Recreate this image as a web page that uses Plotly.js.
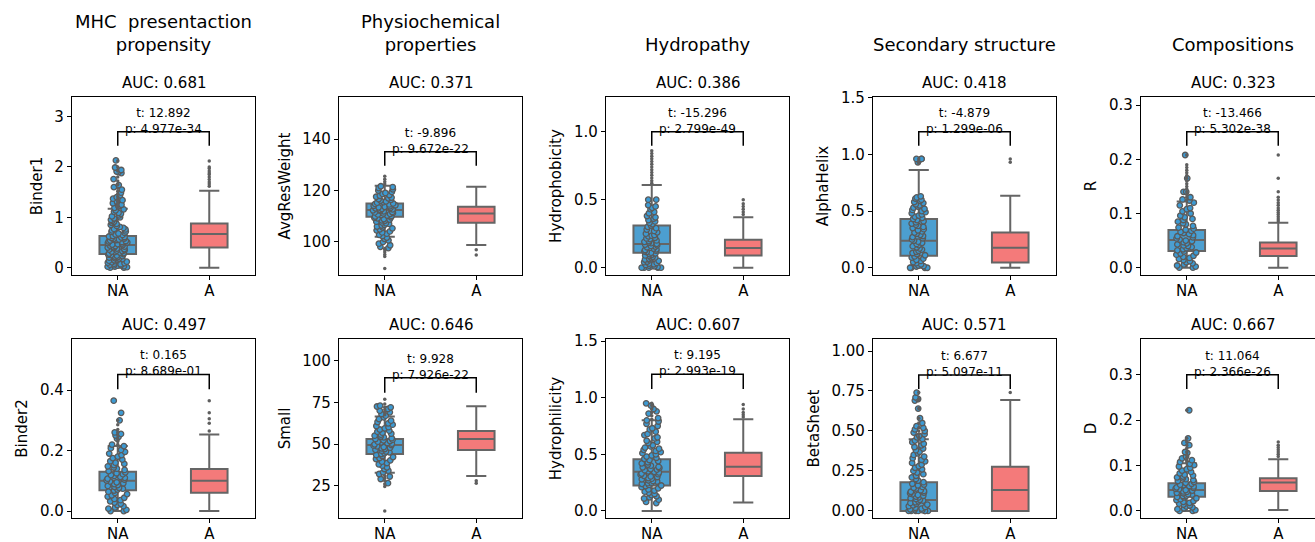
<!DOCTYPE html>
<html>
<head>
<meta charset="utf-8">
<script src="https://cdn.plot.ly/plotly-3.0.1.min.js"></script>
<style>
html,body{margin:0;padding:0;overflow:hidden;background:#fff;}
#chart{width:1330px;height:542px;}
</style>
</head>
<body>
<div id="chart"></div>
<script>
// ---------------- DATA ----------------
const categories = ['NA', 'A'];
const groupTitles = ['MHC\u00a0 presentaction<br>propensity', 'Physiochemical<br>properties', 'Hydropathy', 'Secondary structure', 'Compositions'];
const features = ['Binder1', 'AvgResWeight', 'Hydrophobicity', 'AlphaHelix', 'R',
                  'Binder2', 'Small', 'Hydrophilicity', 'BetaSheet', 'D'];
const aucValues = ['0.681', '0.371', '0.386', '0.418', '0.323',
                   '0.497', '0.646', '0.607', '0.571', '0.667'];
const tValues = ['12.892', '-9.896', '-15.296', '-4.879', '-13.466',
                 '0.165', '9.928', '9.195', '6.677', '11.064'];
const pValues = ['4.977e-34', '9.672e-22', '2.799e-49', '1.299e-06', '5.302e-38',
                 '8.689e-01', '7.926e-22', '2.993e-19', '5.097e-11', '2.366e-26'];

// box statistics, NA group
const naQ1  = [0.27, 109.7, 0.11, 0.106, 0.031, 0.069, 44.0, 0.224, 0.0, 0.0316];
const naMed = [0.45, 112.3, 0.174, 0.238, 0.051, 0.100, 49.4, 0.347, 0.069, 0.046];
const naQ3  = [0.63, 114.9, 0.31, 0.43, 0.0695, 0.130, 53.0, 0.456, 0.179, 0.061];
const naLo  = [0.0, 101.9, 0.0, 0.0, 0.0, 0.0, 32.8, 0.0, 0.0, 0.0];
const naHi  = [1.17, 121.8, 0.608, 0.862, 0.122, 0.215, 66.5, 0.80, 0.448, 0.105];
// box statistics, A group
const aQ1  = [0.40, 107.4, 0.09, 0.047, 0.0215, 0.0606, 46.4, 0.309, 0.0, 0.044];
const aMed = [0.67, 111.0, 0.145, 0.176, 0.0356, 0.100, 53.0, 0.39, 0.131, 0.0625];
const aQ3  = [0.88, 113.6, 0.205, 0.31, 0.0467, 0.139, 57.8, 0.515, 0.277, 0.072];
const aLo  = [0.0, 98.7, 0.0, 0.0, 0.0, 0.0, 30.8, 0.074, 0.0, 0.002];
const aHi  = [1.53, 121.4, 0.37, 0.635, 0.083, 0.253, 72.6, 0.81, 0.694, 0.114];

// outliers (fliers)
const naFliers = [
  [1.2, 1.24, 1.28, 1.32, 1.36, 1.41, 1.47, 1.52, 1.58, 1.65, 1.72, 1.8, 1.92, 2.0, 2.12],
  [89.5, 94.2, 95.0, 96.0, 96.8, 97.3, 122.5, 123.4, 124.3, 125.5],
  [0.62, 0.64, 0.66, 0.68, 0.7, 0.72, 0.74, 0.76, 0.78, 0.8, 0.82, 0.84, 0.86],
  [0.92, 0.94, 0.96],
  [0.124, 0.13, 0.135, 0.14, 0.145, 0.15, 0.155, 0.16, 0.165, 0.17, 0.175, 0.18, 0.185, 0.19, 0.208],
  [0.22, 0.23, 0.24, 0.25, 0.26, 0.27, 0.285, 0.3],
  [9.8, 24.5, 26.0, 28.0, 29.5, 31.0, 67.5, 69.0, 70.5, 72.0, 74.0, 76.8],
  [0.81, 0.84, 0.87, 0.9, 0.93, 0.95],
  [0.46, 0.48, 0.5, 0.52, 0.55, 0.58, 0.64, 0.69, 0.7, 0.74],
  [0.108, 0.112, 0.118, 0.124, 0.13, 0.138, 0.145, 0.152, 0.16, 0.222]
];
const aFliers = [
  [1.62, 1.66, 1.7, 1.75, 1.8, 1.85, 1.88, 1.92, 1.97, 2.0, 2.12],
  [96.8, 94.8],
  [0.39, 0.41, 0.43, 0.45, 0.47, 0.5],
  [0.93, 0.96],
  [0.086, 0.09, 0.094, 0.098, 0.102, 0.106, 0.11, 0.115, 0.12, 0.125, 0.13, 0.14, 0.165, 0.208],
  [0.265, 0.29, 0.305, 0.325, 0.365],
  [28.0, 26.5],
  [0.83, 0.85, 0.87, 0.9, 0.94],
  [0.74],
  [0.12, 0.125, 0.13, 0.135, 0.14, 0.145, 0.152]
];

// individual NA observations (strip points, estimated from the dense clouds)
const naStrip = [
  [0.00,0.00,0.01,0.02,0.02,0.03,0.04,0.05,0.05,0.06,0.07,0.08,0.09,0.10,0.11,0.12,0.13,0.14,0.15,0.16,0.17,0.18,0.19,0.20,0.21,0.22,0.23,0.24,0.25,0.26,0.27,0.28,0.29,0.30,0.31,0.32,0.33,0.34,0.35,0.36,0.37,0.38,0.39,0.40,0.41,0.42,0.43,0.44,0.45,0.46,0.47,0.48,0.49,0.50,0.51,0.52,0.53,0.54,0.55,0.56,0.57,0.58,0.59,0.60,0.61,0.62,0.63,0.65,0.66,0.68,0.69,0.71,0.72,0.74,0.76,0.77,0.79,0.81,0.83,0.85,0.87,0.89,0.91,0.93,0.95,0.98,1.0,1.02,1.04,1.07,1.09,1.11,1.14,1.16,1.19,1.22,1.25,1.28,1.31,1.34,1.37,1.4,1.44,1.49,1.55,1.6,1.64,1.76,1.88,1.9,1.91,1.94,1.99,2.13],
  [97.5,98.0,98.6,99.2,99.9,100.5,101.1,101.6,102.2,102.7,103.1,103.6,104.0,104.4,104.8,105.2,105.6,105.9,106.3,106.6,106.9,107.2,107.5,107.8,108.1,108.3,108.6,108.8,109.1,109.3,109.5,109.8,110.0,110.2,110.4,110.6,110.8,111.0,111.2,111.4,111.6,111.8,112.0,112.2,112.4,112.6,112.8,113.0,113.2,113.4,113.6,113.8,114.0,114.2,114.5,114.7,114.9,115.2,115.4,115.7,116.0,116.3,116.6,116.9,117.2,117.5,117.9,118.2,118.6,119.0,119.4,119.9,120.4,120.9,121.3,121.6],
  [0,0,0,0,0,0.005,0.01,0.01,0.015,0.02,0.025,0.03,0.035,0.04,0.045,0.05,0.055,0.06,0.065,0.07,0.075,0.08,0.085,0.09,0.095,0.1,0.105,0.11,0.115,0.12,0.125,0.13,0.135,0.14,0.145,0.15,0.155,0.16,0.165,0.17,0.175,0.18,0.185,0.19,0.195,0.2,0.21,0.215,0.22,0.23,0.235,0.24,0.25,0.26,0.27,0.28,0.29,0.3,0.31,0.32,0.33,0.34,0.35,0.36,0.37,0.38,0.4,0.41,0.43,0.44,0.45,0.46,0.5,0.5],
  [0,0,0,0,0.01,0.015,0.02,0.03,0.04,0.05,0.06,0.07,0.08,0.09,0.1,0.11,0.12,0.13,0.14,0.15,0.16,0.17,0.18,0.19,0.2,0.21,0.22,0.23,0.24,0.25,0.26,0.27,0.28,0.29,0.3,0.31,0.32,0.33,0.34,0.35,0.36,0.37,0.38,0.39,0.4,0.41,0.42,0.43,0.44,0.45,0.46,0.47,0.48,0.49,0.5,0.51,0.52,0.53,0.54,0.55,0.56,0.57,0.58,0.59,0.6,0.61,0.62,0.63,0.93,0.95,0.96,0.96,0.96],
  [0,0,0.002,0.004,0.006,0.008,0.01,0.012,0.014,0.016,0.018,0.02,0.022,0.024,0.026,0.028,0.03,0.032,0.034,0.036,0.038,0.04,0.041,0.043,0.045,0.047,0.049,0.05,0.052,0.054,0.056,0.058,0.06,0.062,0.064,0.066,0.068,0.07,0.072,0.074,0.077,0.08,0.082,0.085,0.088,0.09,0.093,0.096,0.1,0.104,0.108,0.11,0.115,0.12,0.124,0.126,0.13,0.14,0.14,0.165,0.208],
  [0,0,0.004,0.008,0.012,0.016,0.02,0.024,0.028,0.032,0.036,0.04,0.044,0.048,0.052,0.056,0.06,0.064,0.068,0.071,0.074,0.077,0.08,0.083,0.086,0.089,0.092,0.095,0.098,0.101,0.104,0.107,0.11,0.113,0.116,0.119,0.122,0.125,0.128,0.132,0.136,0.14,0.144,0.148,0.152,0.156,0.16,0.165,0.17,0.175,0.18,0.185,0.19,0.196,0.202,0.208,0.215,0.22,0.24,0.245,0.25,0.255,0.26,0.3,0.325,0.365],
  [26.5,29,30.5,32,33,34,35,36,37,37.8,38.6,39.4,40.2,41,41.6,42.2,42.8,43.4,44,44.5,45,45.5,46,46.5,47,47.4,47.8,48.2,48.6,49,49.4,49.8,50.2,50.6,51,51.4,51.8,52.2,52.6,53,53.5,54,54.5,55,55.6,56.2,56.8,57.4,58,58.7,59.4,60.1,60.8,61.6,62.4,63.2,64,65,66,67,68,69,70,71,72,72.5,73],
  [0.07,0.08,0.1,0.11,0.12,0.13,0.14,0.15,0.16,0.17,0.18,0.19,0.2,0.21,0.22,0.225,0.23,0.24,0.245,0.25,0.26,0.265,0.27,0.28,0.285,0.29,0.3,0.305,0.31,0.32,0.325,0.33,0.34,0.345,0.35,0.36,0.365,0.37,0.38,0.385,0.39,0.4,0.41,0.42,0.43,0.44,0.45,0.46,0.47,0.48,0.49,0.5,0.51,0.52,0.53,0.54,0.55,0.56,0.57,0.58,0.6,0.61,0.62,0.64,0.65,0.67,0.68,0.7,0.72,0.73,0.75,0.77,0.79,0.8,0.82,0.86,0.88,0.9,0.93,0.95],
  [0,0,0,0,0,0,0,0.005,0.01,0.01,0.015,0.02,0.025,0.03,0.035,0.04,0.045,0.05,0.055,0.06,0.065,0.07,0.075,0.08,0.085,0.09,0.095,0.1,0.105,0.11,0.115,0.12,0.125,0.13,0.14,0.145,0.15,0.16,0.165,0.17,0.18,0.19,0.2,0.21,0.22,0.23,0.24,0.25,0.26,0.27,0.28,0.29,0.3,0.31,0.32,0.33,0.34,0.35,0.36,0.37,0.38,0.39,0.4,0.41,0.42,0.43,0.44,0.45,0.46,0.47,0.48,0.49,0.5,0.51,0.52,0.53,0.55,0.58,0.64,0.69,0.7,0.71,0.74],
  [0,0,0.002,0.004,0.006,0.008,0.01,0.012,0.014,0.016,0.018,0.02,0.022,0.024,0.026,0.028,0.03,0.031,0.033,0.034,0.036,0.037,0.039,0.04,0.042,0.043,0.045,0.046,0.048,0.049,0.051,0.052,0.054,0.055,0.057,0.058,0.06,0.062,0.064,0.066,0.068,0.07,0.072,0.074,0.076,0.078,0.08,0.083,0.086,0.089,0.092,0.095,0.098,0.101,0.104,0.108,0.112,0.116,0.12,0.128,0.13,0.145,0.15,0.16,0.222]
];

// tick values per subplot
const yTicks = [
  [0, 1, 2, 3], [100, 120, 140], [0, 0.5, 1.0], [0, 0.5, 1.0, 1.5], [0, 0.1, 0.2, 0.3],
  [0, 0.2, 0.4], [25, 50, 75, 100], [0, 0.5, 1.0, 1.5], [0, 0.25, 0.5, 0.75, 1.0], [0, 0.1, 0.2, 0.3]
];

// ---------------- LAYOUT / STYLE ----------------
const W = 1330, H = 542;
const colLeft = [72, 339, 606, 873, 1141];
const axW = 183;
const rowTop = [97, 339];
const rowH = [178, 179];
const yRanges = [
  [-0.145, 3.39], [87, 156.4], [-0.054, 1.255], [-0.064, 1.506], [-0.0135, 0.315],
  [-0.023, 0.569], [5.6, 113], [-0.062, 1.518], [-0.044, 1.075], [-0.0155, 0.379]
];
const tickFormats = ['', '', '.1f', '.1f', '.1f', '.1f', '', '.1f', '.2f', '.1f'];
// bracket levels [top, lower end] in data units
const bracketTop = [2.70, 135.1, 1.0, 1.20, 0.251, 0.452, 89.8, 1.207, 0.85, 0.300];
const bracketBot = [2.42, 129.6, 0.897, 1.077, 0.225, 0.403, 80.8, 1.077, 0.7625, 0.269];

const NA_FILL = '#4C9FD0';
const A_FILL = '#F47A7A';
const EDGE = '#656565';
const FONT = 'DejaVu Sans, sans-serif';

const traces = [];
const layout = {
  width: W, height: H,
  margin: {l: 0, r: 0, t: 0, b: 0},
  paper_bgcolor: '#fff', plot_bgcolor: '#fff',
  showlegend: false,
  font: {family: FONT, size: 15, color: '#000'},
  shapes: [], annotations: []
};

for (let k = 0; k < 10; k++) {
  const r = Math.floor(k / 5), c = k % 5;
  const id = k === 0 ? '' : String(k + 1);
  const xa = 'x' + id, ya = 'y' + id;
  const l = colLeft[c], top = rowTop[r], h = rowH[r];

  layout['xaxis' + id] = {
    domain: [l / W, (l + axW) / W],
    range: [-0.5, 1.5],
    tickvals: [0, 1], ticktext: categories,
    ticks: 'outside', ticklen: 4, tickwidth: 1, tickcolor: '#000',
    ticklabelstandoff: -2,
    showline: true, mirror: true, linecolor: '#000', linewidth: 1.2,
    showgrid: false, zeroline: false, fixedrange: true,
    tickfont: {size: 15, family: FONT}, anchor: ya
  };
  layout['yaxis' + id] = {
    domain: [(H - top - h) / H, (H - top) / H],
    range: yRanges[k],
    tickvals: yTicks[k], tickformat: tickFormats[k],
    ticks: 'outside', ticklen: 4, tickwidth: 1, tickcolor: '#000',
    showline: true, mirror: true, linecolor: '#000', linewidth: 1.2,
    showgrid: false, zeroline: false, fixedrange: true,
    tickfont: {size: 15, family: FONT}, anchor: xa,
    title: {text: features[k], font: {size: 15, family: FONT}, standoff: 8}
  };

  const common = {xaxis: xa, yaxis: ya, hoverinfo: 'skip', showlegend: false, orientation: 'v'};
  // NA box
  traces.push(Object.assign({
    type: 'box', x: [0], q1: [naQ1[k]], median: [naMed[k]], q3: [naQ3[k]],
    lowerfence: [naLo[k]], upperfence: [naHi[k]], boxpoints: false,
    width: 0.4, whiskerwidth: 0.55, fillcolor: NA_FILL, line: {color: EDGE, width: 2}
  }, common));
  // A box
  traces.push(Object.assign({
    type: 'box', x: [1], q1: [aQ1[k]], median: [aMed[k]], q3: [aQ3[k]],
    lowerfence: [aLo[k]], upperfence: [aHi[k]], boxpoints: false,
    width: 0.4, whiskerwidth: 0.55, fillcolor: A_FILL, line: {color: EDGE, width: 2}
  }, common));
  // fliers
  traces.push({
    type: 'scatter', mode: 'markers', xaxis: xa, yaxis: ya, hoverinfo: 'skip', showlegend: false,
    x: naFliers[k].map(() => 0).concat(aFliers[k].map(() => 1)),
    y: naFliers[k].concat(aFliers[k]),
    marker: {size: 3.5, color: '#5e5e5e'}
  });
  // NA strip points (library jitter)
  traces.push(Object.assign({
    type: 'box', y: naStrip[k], x0: 0, boxpoints: 'all', jitter: 0.65, pointpos: 0,
    width: 0.4, fillcolor: 'rgba(0,0,0,0)', line: {color: 'rgba(0,0,0,0)', width: 0},
    marker: {size: 5.5, color: '#3C9AD3', line: {color: '#5a5a5a', width: 1.3}}
  }, common));

  // bracket
  layout.shapes.push({
    type: 'path', xref: xa, yref: ya,
    path: `M 0,${bracketBot[k]} L 0,${bracketTop[k]} L 1,${bracketTop[k]} L 1,${bracketBot[k]}`,
    line: {color: '#000', width: 1.5}
  });
  // t / p text
  layout.annotations.push({
    xref: xa, yref: ya, x: 0.5, y: bracketTop[k], yanchor: 'bottom', yshift: -6,
    showarrow: false, align: 'center',
    text: 't: ' + tValues[k] + '<br>p: ' + pValues[k],
    font: {size: 12, family: FONT, color: '#000'}
  });
  // AUC subplot title
  layout.annotations.push({
    xref: xa + ' domain', yref: ya + ' domain', x: 0.5, y: 1, yanchor: 'bottom', yshift: 3,
    showarrow: false, text: 'AUC: ' + aucValues[k],
    font: {size: 15, family: FONT, color: '#000'}
  });
  // column titles
  if (r === 0) {
    layout.annotations.push({
      xref: xa + ' domain', yref: 'paper', x: 0.5, y: (H - 57) / H, yanchor: 'bottom',
      showarrow: false, text: groupTitles[c], align: 'center',
      font: {size: 18, family: FONT, color: '#000'}
    });
  }
}

Plotly.newPlot('chart', traces, layout, {staticPlot: true, displayModeBar: false});
</script>
</body>
</html>
